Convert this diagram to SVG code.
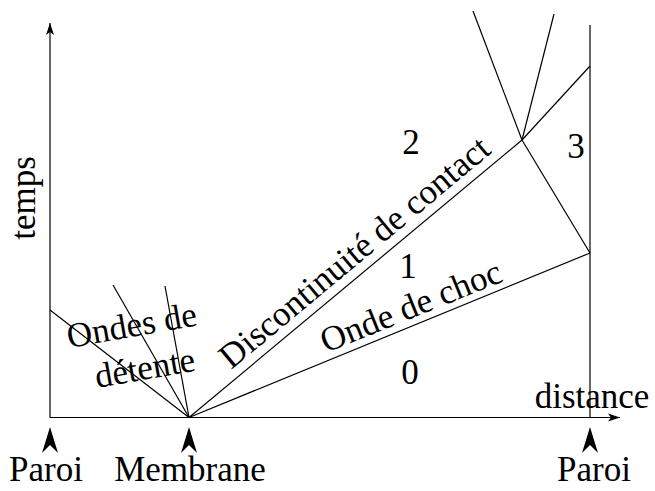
<svg xmlns="http://www.w3.org/2000/svg" xmlns:xlink="http://www.w3.org/1999/xlink" width="655" height="491" viewBox="0 0 655 491">
<style>
.ln{stroke:#000;stroke-width:1.2;fill:none}
text{font-family:'Times New Roman','Liberation Serif',serif;font-size:35px;fill:#000}
.m{text-anchor:middle}
</style>
<defs>
<path id="wallArrow" d="M0,0 L8,26 L0,18 L-8,26 Z" fill="#000"/>
<marker id="ah" markerWidth="14" markerHeight="10" refX="12" refY="5" orient="auto" markerUnits="userSpaceOnUse">
<path d="M0,1 L12,5 L0,9 L3,5 Z" fill="#000"/>
</marker>
</defs>
<rect width="655" height="491" fill="#fff"/>
<g id="connectors">
<line class="ln" x1="50" y1="417.5" x2="620" y2="417.5" marker-end="url(#ah)"/>
<line class="ln" x1="50" y1="417.5" x2="50" y2="23" marker-end="url(#ah)"/>
<line class="ln" x1="590" y1="417.5" x2="590" y2="25"/>
<line class="ln" x1="189" y1="417.5" x2="50" y2="310"/>
<line class="ln" x1="189" y1="417.5" x2="113" y2="285"/>
<line class="ln" x1="189" y1="417.5" x2="165" y2="286"/>
<line class="ln" x1="189" y1="417.5" x2="522" y2="140"/>
<line class="ln" x1="522" y1="140" x2="590" y2="66"/>
<line class="ln" x1="189" y1="417.5" x2="590" y2="253"/>
<line class="ln" x1="590" y1="253" x2="522" y2="140"/>
<line class="ln" x1="522" y1="140" x2="473" y2="11"/>
<line class="ln" x1="522" y1="140" x2="554" y2="14"/>
</g>
<g id="paroi-left">
<use xlink:href="#wallArrow" x="50" y="427"/>
<text class="m" x="46" y="481">Paroi</text>
</g>
<g id="membrane">
<use xlink:href="#wallArrow" x="189" y="427"/>
<text class="m" x="190" y="481">Membrane</text>
</g>
<g id="paroi-right">
<use xlink:href="#wallArrow" x="590" y="427"/>
<text class="m" x="594" y="481">Paroi</text>
</g>
<g id="axis-labels">
<text class="m" x="592" y="408">distance</text>
<text class="m" transform="translate(35,198) rotate(-90)">temps</text>
</g>
<g id="regions">
<text class="m" x="410" y="384">0</text>
<text class="m" x="408" y="278">1</text>
<text class="m" x="411" y="154">2</text>
<text class="m" x="576" y="158">3</text>
</g>
<g id="wave-labels">
<text transform="translate(69,348) rotate(-10)">Ondes de</text>
<text transform="translate(97,388) rotate(-10)">détente</text>
<text transform="translate(231,370) rotate(-39.8)">Discontinuité de contact</text>
<text transform="translate(326,353) rotate(-22)">Onde de choc</text>
</g>
</svg>
